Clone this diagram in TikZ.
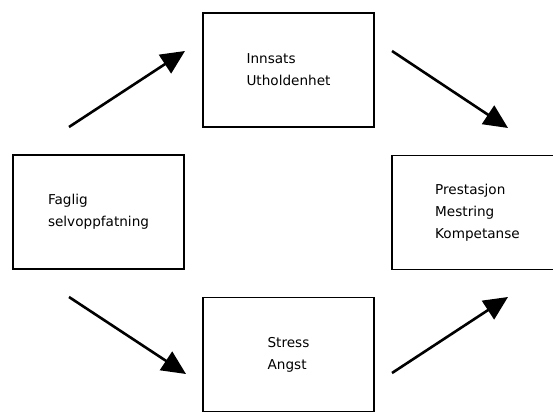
\documentclass[tikz,border=0pt]{standalone}
\usepackage{fontspec}
\setmainfont{DejaVu Sans}
\usepackage{tikz}
\usetikzlibrary{positioning}
\usetikzlibrary{arrows.meta,shapes}
\tikzstyle{box}=[rectangle,draw=black,line width=1.8pt,fill=white,minimum width=171pt,minimum height=114pt,inner sep=0pt,align=left,font=\fontsize{13.6}{22}\selectfont]
\tikzstyle{edge} = [draw,line width=2.6pt,-{Triangle[length=24pt,width=22pt]}]

\begin{document}
\begin{tikzpicture}[x=1pt,y=1pt]
    \useasboundingbox (0,0) rectangle (553,412);
    % First we draw the boxes
    \foreach \pos/\name/\label in {{(288.5,342)/innsats/{Innsats\\Utholdenhet}}, {(98.5,200)/faglig/{Faglig\\selvoppfatning}}, {(477.5,199.5)/prestasjon/{Prestasjon\\Mestring\\Kompetanse}}, {(288.5,57.5)/stress/{Stress\\Angst}}}
        \node[box] (\name) at \pos {\label};

    % Free ends of the arrows
    \foreach \x/\y/\name in {69/285/a1s, 185/361/a1e, 392/361/a2s, 508/284/a2e, 69/115/a3s, 186/38/a3e, 392/39/a4s, 508/115/a4e}
        \coordinate (\name) at (\x,\y);

    % Draw the arrows
  \foreach \source/ \dest in {a1s/a1e, a2s/a2e, a3s/a3e, a4s/a4e}
          \path[edge] (\source) -- (\dest);

   \end{tikzpicture}
\end{document}
